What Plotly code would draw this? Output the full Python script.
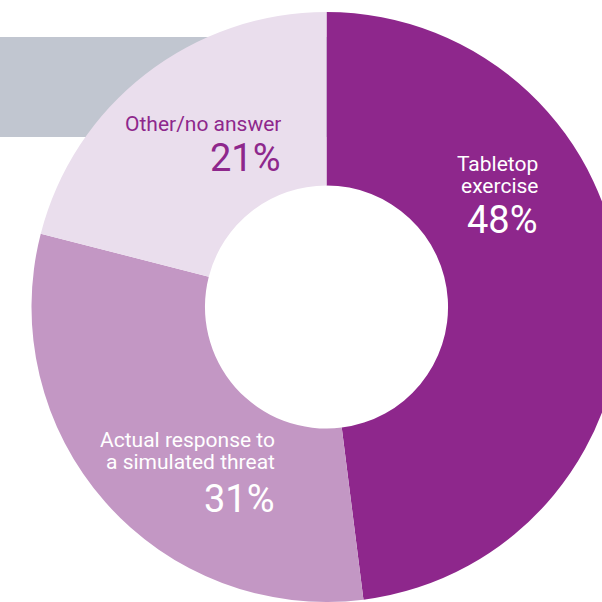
import plotly.graph_objects as go

# Survey breakdown: how organisations test their response plans
categories = ["Tabletop exercise", "Actual response to a simulated threat", "Other/no answer"]
label_lines = [["Tabletop", "exercise"], ["Actual response to", "a simulated threat"], ["Other/no answer"]]
shares = [48, 31, 21]
slice_colors = ["#8e278c", "#c397c4", "#eadeed"]
label_colors = ["#ffffff", "#ffffff", "#8e278c"]

W, H = 653, 602
TOP = 12
FONT = "Roboto, Arial, sans-serif"
LABEL_SIZE = 21
PCT_SIZE = 38

fig = go.Figure(
    go.Pie(
        labels=categories,
        values=shares,
        sort=False,
        direction="clockwise",
        rotation=0,
        hole=0.412,
        marker=dict(colors=slice_colors, line=dict(width=0)),
        textinfo="none",
        hoverinfo="label+percent",
        showlegend=False,
        domain=dict(x=[0, 1], y=[0, 1 - TOP / H]),
    )
)

# Grey band sitting behind the ring
fig.add_shape(
    type="rect", xref="paper", yref="paper",
    x0=0, x1=330 / W, y0=1 - 137 / H, y1=1 - 37 / H,
    fillcolor="#c1c6d0", line=dict(width=0), layer="below",
)


def px(x):
    return x / W


def py(y):
    return 1 - y / H


def mid_from_baseline(baseline, size):
    # centre of the text box sits about a third of an em above the baseline
    return baseline - 0.3415 * size


# Right edge of each label block, baselines of the text lines, baseline of the percentage
label_pos = [
    (539, [171, 193.2], 233),
    (276, [447, 469.5], 511.5),
    (282, [131], 170.5),
]

for i, (xr, baselines, pct_base) in enumerate(label_pos):
    for text, b in zip(label_lines[i], baselines):
        fig.add_annotation(
            x=px(xr), y=py(mid_from_baseline(b, LABEL_SIZE)), xref="paper", yref="paper",
            xanchor="right", yanchor="middle", showarrow=False,
            height=22, borderpad=0,
            text=text, font=dict(family=FONT, size=LABEL_SIZE, color=label_colors[i]),
        )
    fig.add_annotation(
        x=px(xr), y=py(mid_from_baseline(pct_base, PCT_SIZE)), xref="paper", yref="paper",
        xanchor="right", yanchor="middle", showarrow=False,
        height=32, borderpad=0,
        text=f"{shares[i]}%", font=dict(family=FONT, size=PCT_SIZE, color=label_colors[i]),
    )

fig.update_layout(
    width=W, height=H,
    margin=dict(l=0, r=0, t=0, b=0),
    paper_bgcolor="#ffffff",
    plot_bgcolor="#ffffff",
)

fig.write_html("out.html")
